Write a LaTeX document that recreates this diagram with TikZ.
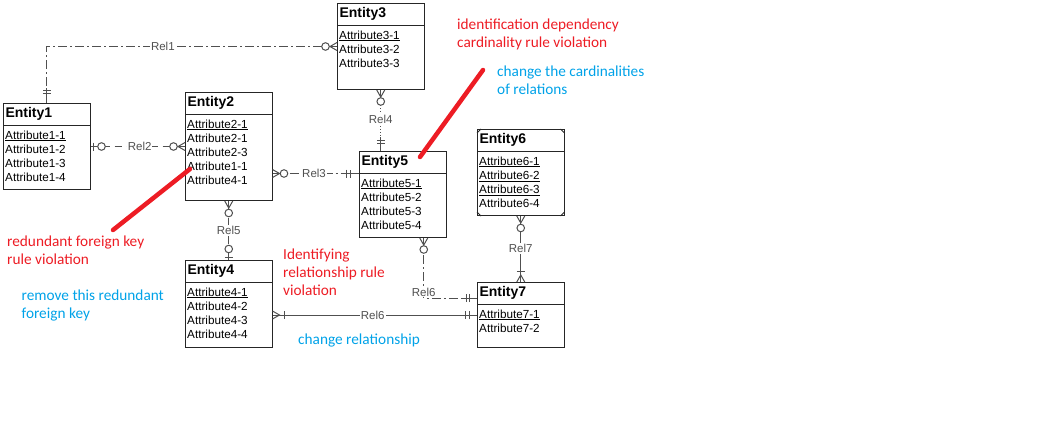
\documentclass[tikz,border=0pt]{standalone}
\usepackage{fontspec}
\setmainfont{Liberation Sans}
\newfontfamily\notefont{Carlito}
\usepackage{tikz}
\definecolor{notered}{RGB}{237,28,36}
\definecolor{noteblue}{RGB}{0,162,232}
\definecolor{relgray}{RGB}{80,80,80}

\begin{document}
\begin{tikzpicture}
[x=1pt, y=-1pt,
entity/.style={draw=black!85, line width=1pt, anchor=north west, minimum width=86.5pt, inner sep=0pt},
entity name/.style={draw=black!85, line width=1pt, anchor=north west, minimum height=21.5pt, text width=82.5pt, inner xsep=2pt, inner ysep=0pt, align=left, font=\fontsize{14}{16}\selectfont\bfseries},
attributes/.style={anchor=north west, text width=82.5pt, inner xsep=2pt, inner ysep=5pt, align=left, font=\fontsize{11.7}{14.2}\selectfont},
rel/.style={relgray, line width=1pt},
dashdot/.style={dash pattern=on 9pt off 3pt on 2pt off 3pt},
longdash/.style={dash pattern=on 7pt off 5pt},
rel label/.style={fill=white, inner sep=1pt, text=relgray, font=\fontsize{11.5}{13}\selectfont},
note/.style={anchor=west, align=left, inner sep=0pt, font=\notefont\fontsize{15.3}{18}\selectfont},
red mark/.style={notered, line width=4.5pt, line cap=round}]
\useasboundingbox (0,0) rectangle (1059,426);
\node[entity, minimum height=86pt] (e1) at (3,103) {};
\node[entity name] (e1n) at (e1.north west) {Entity1};
\node[attributes] at (e1n.south west) {\underline{Attribute1-1}\\Attribute1-2\\Attribute1-3\\Attribute1-4};
\node[entity, minimum height=108pt] (e2) at (185,92) {};
\node[entity name] (e2n) at (e2.north west) {Entity2};
\node[attributes] at (e2n.south west) {\underline{Attribute2-1}\\Attribute2-1\\Attribute2-3\\Attribute1-1\\Attribute4-1};
\node[entity, minimum height=86pt] (e3) at (337,3) {};
\node[entity name] (e3n) at (e3.north west) {Entity3};
\node[attributes] at (e3n.south west) {\underline{Attribute3-1}\\Attribute3-2\\Attribute3-3};
\node[entity, minimum height=87pt] (e4) at (185,260) {};
\node[entity name] (e4n) at (e4.north west) {Entity4};
\node[attributes] at (e4n.south west) {\underline{Attribute4-1}\\Attribute4-2\\Attribute4-3\\Attribute4-4};
\node[entity, minimum height=86pt] (e5) at (359,151) {};
\node[entity name] (e5n) at (e5.north west) {Entity5};
\node[attributes] at (e5n.south west) {\underline{Attribute5-1}\\Attribute5-2\\Attribute5-3\\Attribute5-4};
\node[entity, minimum height=86pt] (e6) at (477,129) {};
\node[entity name] (e6n) at (e6.north west) {Entity6};
\node[attributes] at (e6n.south west) {\underline{Attribute6-1}\\\underline{Attribute6-2}\\\underline{Attribute6-3}\\Attribute6-4};
\draw[black!85, line width=0.8pt] (e6.north west) ++(0,4) -- ++(4,-4);
\draw[black!85, line width=0.8pt] (e6.north east) ++(-4,0) -- ++(4,4);
\draw[black!85, line width=0.8pt] (e6.south west) ++(0,-4) -- ++(4,4);
\draw[black!85, line width=0.8pt] (e6.south east) ++(-4,0) -- ++(4,-4);
\node[entity, minimum height=65pt] (e7) at (477,282) {};
\node[entity name] (e7n) at (e7.north west) {Entity7};
\node[attributes] at (e7n.south west) {\underline{Attribute7-1}\\Attribute7-2};
\draw[rel, dashdot] (e1.north) |- (e3.west) node[rel label, pos=0.7] {Rel1};
\draw[rel] (e1.north) -- ++(0,-15);
\draw[rel] (e1.north) ++(-4,-9.5) -- ++(8,0) ++(0,-3) -- ++(-8,0);
\draw[rel] (e3.west) ++(0,-4) -- ++(-7,4) -- ++(7,4);
\draw[rel] (e3.west) -- ++(-8,0);
\draw[rel, fill=white] (e3.west) ++(-11.5,0) circle[radius=3.8pt];
\draw[rel, longdash] (e1.east) -- (e2.west) node[rel label, pos=0.52] {Rel2};
\draw[rel] (e1.east) -- ++(7,0);
\draw[rel] (e1.east) ++(3,-4) -- ++(0,8);
\draw[rel, fill=white] (e1.east) ++(11,0) circle[radius=3.8pt];
\draw[rel] (e2.west) ++(0,-4) -- ++(-7,4) -- ++(7,4);
\draw[rel] (e2.west) -- ++(-8,0);
\draw[rel, fill=white] (e2.west) ++(-11.5,0) circle[radius=3.8pt];
\coordinate (r3a) at ([yshift=-27pt]e2.east);
\coordinate (r3b) at (r3a -| e5.west);
\draw[rel, dashdot] (r3a) -- (r3b) node[rel label, pos=0.48] {Rel3};
\draw[rel] (r3a) ++(0,-4) -- ++(7,4) -- ++(-7,4);
\draw[rel] (r3a) -- ++(8,0);
\draw[rel, fill=white] (r3a) ++(11.5,0) circle[radius=3.8pt];
\draw[rel] (r3b) -- ++(-17,0);
\draw[rel] (r3b) ++(-13,-4) -- ++(0,8) ++(4,0) -- ++(0,-8);
\coordinate (r4b) at (e3.south |- e5.north);
\draw[rel, dotted] (e3.south) -- (r4b) node[rel label, pos=0.48] {Rel4};
\draw[rel] (e3.south) ++(-4,0) -- ++(4,7) -- ++(4,-7);
\draw[rel] (e3.south) -- ++(0,8);
\draw[rel, fill=white] (e3.south) ++(0,11.5) circle[radius=3.8pt];
\draw[rel] (r4b) -- ++(0,-14);
\draw[rel] (r4b) ++(-4,-11) -- ++(8,0) ++(0,3) -- ++(-8,0);
\draw[rel, dashdot] (e2.south) -- (e4.north) node[rel label, pos=0.5] {Rel5};
\draw[rel] (e2.south) ++(-4,0) -- ++(4,7) -- ++(4,-7);
\draw[rel] (e2.south) -- ++(0,8);
\draw[rel, fill=white] (e2.south) ++(0,12) circle[radius=3.8pt];
\draw[rel] (e4.north) -- ++(0,-7);
\draw[rel] (e4.north) ++(-4,-3) -- ++(8,0);
\draw[rel, fill=white] (e4.north) ++(0,-11) circle[radius=3.8pt];
\coordinate (r6a) at ([xshift=21pt]e5.south);
\coordinate (r6b) at ([yshift=-16pt]e7.north west);
\draw[rel, dashdot] (r6a) |- (r6b) node[rel label, pos=0.5, yshift=6pt] {Rel6};
\draw[rel] (r6a) ++(-4,0) -- ++(4,7) -- ++(4,-7);
\draw[rel] (r6a) -- ++(0,8);
\draw[rel, fill=white] (r6a) ++(0,11.5) circle[radius=3.8pt];
\draw[rel] (r6b) -- ++(-14,0);
\draw[rel] (r6b) ++(-11,-4) -- ++(0,8) ++(3.5,0) -- ++(0,-8);
\coordinate (r6c) at (e7.west -| e4.east);
\draw[rel] (r6c) -- (e7.west) node[rel label, pos=0.49] {Rel6};
\draw[rel] (r6c) ++(0,-4) -- ++(7,4) -- ++(-7,4);
\draw[rel] (r6c) ++(12,-4) -- ++(0,8);
\draw[rel] (e7.west) ++(-12,-4) -- ++(0,8) ++(4,0) -- ++(0,-8);
\draw[rel] (e6.south) -- (e7.north) node[rel label, pos=0.49] {Rel7};
\draw[rel] (e6.south) ++(-4,0) -- ++(4,7) -- ++(4,-7);
\draw[rel, fill=white] (e6.south) ++(0,12) circle[radius=3.8pt];
\draw[rel] (e7.north) ++(-4,0) -- ++(4,-7) -- ++(4,7);
\draw[rel] (e7.north) ++(-4,-11) -- ++(8,0);
\draw[red mark] (420,157) -- (483,70);
\draw[red mark] (190,169) -- (113,230);
\node[note, text=notered] at (457,34) {identification dependency\\cardinality rule violation};
\node[note, text=noteblue] at (497,80.5) {change the cardinalities\\of relations};
\node[note, text=notered] at (7,250) {redundant foreign key\\rule violation};
\node[note, text=noteblue] at (21.5,305.5) {remove this redundant\\foreign key};
\node[note, text=notered] at (283,272) {Identifying\\relationship rule\\violation};
\node[note, text=noteblue] at (298,340) {change relationship};
\end{tikzpicture}
\end{document}
